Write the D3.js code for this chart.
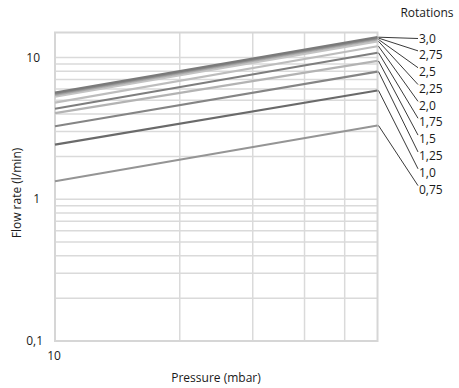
<!DOCTYPE html>
<html lang="en">
<head>
  <meta charset="UTF-8">
  <title>Flow rate vs pressure</title>
  <script src="https://d3js.org/d3.v7.min.js"></script>
  <style>
    body { margin: 0; background: #fff; }
    svg { font-family: "Open Sans", sans-serif; font-size: 12px; }
    .grid line { stroke: #dadada; stroke-width: 1.5px; }
    .frame { fill: none; stroke: #d6d6d6; stroke-width: 2px; }
    .curve { fill: none; stroke-width: 2.2px; }
    .leader { stroke: #222; stroke-width: 0.9px; fill: none; }
  </style>
</head>
<body>
  <svg id="chart"></svg>
  <script>
    // rotations, flow (l/min) at 10 mbar and at 60 mbar
    const rotations = ["3,0", "2,75", "2,5", "2,25", "2,0", "1,75", "1,5", "1,25", "1,0", "0,75"];
    const flowAt10 = [5.65, 5.55, 5.45, 5.3, 4.8, 4.35, 4.05, 3.27, 2.43, 1.34];
    const flowAt60 = [13.9, 13.7, 13.4, 13.0, 12.0, 10.8, 9.45, 7.95, 5.85, 3.31];
    const pressures = [10, 60];
    const lineColors = ["#7a7a7a", "#8c8c8c", "#a8a8a8", "#c4c4c4", "#bdbdbd", "#7e7e7e", "#b3b3b3", "#858585", "#6a6a6a", "#959595"];
    const yTicks = [0.1, 1, 10];
    const yTickLabels = ["0,1", "1", "10"];

    const width = 459, height = 388;
    const svg = d3.select("#chart").attr("width", width).attr("height", height);

    const x = d3.scaleLog().domain([10, 60]).range([55, 377.5]);
    const y = d3.scaleLog().domain([0.1, 15]).range([341, 32.5]);

    // horizontal grid: 0.2..0.9, 1..10
    const hGrid = d3.range(2, 10).map(d => d / 10).concat(d3.range(1, 11));
    svg.append("g").attr("class", "grid")
      .selectAll("line").data(hGrid).enter().append("line")
      .attr("x1", x(10)).attr("x2", x(60))
      .attr("y1", d => y(d)).attr("y2", d => y(d));

    svg.append("g").attr("class", "grid")
      .selectAll("line").data([20, 30, 40, 50]).enter().append("line")
      .attr("x1", d => x(d)).attr("x2", d => x(d))
      .attr("y1", y(15)).attr("y2", y(0.1));

    svg.append("rect").attr("class", "frame")
      .attr("x", x(10)).attr("y", y(15))
      .attr("width", x(60) - x(10)).attr("height", y(0.1) - y(15));

    // y tick labels
    svg.append("g").selectAll("text").data(yTicks).enter().append("text")
      .attr("x", (d, i) => i === 0 ? 43 : 40)
      .attr("y", d => y(d))
      .attr("dy", "0.35em")
      .attr("text-anchor", "end")
      .attr("fill", "#1a1a1a")
      .text((d, i) => yTickLabels[i]);

    svg.append("text").attr("x", 54).attr("y", 356).attr("dy", "0.35em")
      .attr("text-anchor", "middle").attr("fill", "#1a1a1a").text("10");

    // curves
    const line = d3.line().x(d => x(d[0])).y(d => y(d[1]));
    const series = rotations.map((r, i) => ({
      name: r,
      pts: [[pressures[0], flowAt10[i]], [pressures[1], flowAt60[i]]]
    }));
    // draw light ones first so darker sit on top
    svg.append("g").selectAll("path").data(series.slice().reverse()).enter().append("path")
      .attr("class", "curve")
      .attr("stroke", d => lineColors[rotations.indexOf(d.name)])
      .attr("d", d => line(d.pts));

    // leaders and labels
    const labelY = rotations.map((r, i) => i === 0 ? 38.5 : 38 + i * 16.85);
    const lab = svg.append("g");
    series.forEach((s, i) => {
      const y0 = y(s.pts[1][1]);
      const yEnd = i === 0 ? labelY[i] : labelY[i] - 4;
      lab.append("line").attr("class", "leader")
        .attr("x1", x(60) + 1).attr("y1", y0)
        .attr("x2", 418).attr("y2", yEnd);
      lab.append("text").attr("x", 419).attr("y", labelY[i]).attr("dy", "0.35em")
        .attr("fill", "#1a1a1a").text(s.name);
    });

    svg.append("text").attr("x", 427).attr("y", 13).attr("dy", "0.35em")
      .attr("text-anchor", "middle").attr("fill", "#1a1a1a").text("Rotations");

    svg.append("text").attr("x", 216).attr("y", 378).attr("dy", "0.35em")
      .attr("text-anchor", "middle").attr("fill", "#1a1a1a").text("Pressure (mbar)");

    svg.append("text")
      .attr("transform", "translate(17,193) rotate(-90)")
      .attr("dy", "0.35em")
      .attr("text-anchor", "middle").attr("fill", "#1a1a1a").text("Flow rate (l/min)");
  </script>
</body>
</html>
